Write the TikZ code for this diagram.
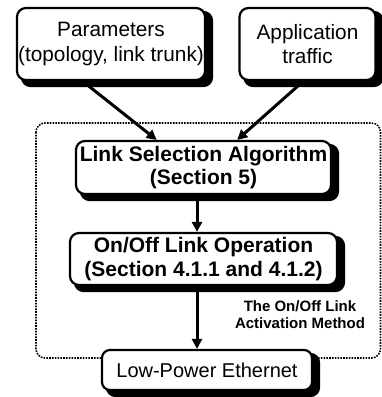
\documentclass[tikz,border=0pt]{standalone}
\usepackage{fontspec}
\setmainfont{Liberation Sans}
\usetikzlibrary{arrows.meta,calc,backgrounds}
\begin{document}
\begin{tikzpicture}[x=1pt,y=-1pt,
  box/.style={draw=black, line width=2.2pt, fill=white, rounded corners=9pt,
    align=center, inner sep=0pt},
  shade/.style={fill=black, draw=black, line width=2.2pt, rounded corners=9pt},
  reg/.style={font=\fontsize{20.8}{24.5}\selectfont},
  bld/.style={font=\fontsize{21}{23.5}\selectfont\bfseries},
  arr/.style={line width=3pt, -{Triangle[length=10pt,width=10pt]}},
  region/.style={draw=black, line width=1.6pt, dash pattern=on 1.6pt off 1.2pt, rounded corners=9pt}
]
\useasboundingbox (0,0) rectangle (382,397);
\draw[region] (36,123) rectangle (380.5,358);
\node[box, reg, minimum width=188pt, minimum height=72pt] (par) at (111,44) {Parameters\\(topology, link trunk)};
\node[box, reg, minimum width=136pt, minimum height=72pt] (app) at (307.5,44) {Application\\traffic};
\node[box, bld, minimum width=255pt, minimum height=53pt] (ls) at (203.5,167.5) {Link Selection Algorithm\\(Section 5)};
\node[box, bld, minimum width=267pt, minimum height=52pt] (oo) at (203.5,259) {On/Off Link Operation\\(Section 4.1.1 and 4.1.2)};
\node[box, reg, font=\fontsize{20}{24}\selectfont, minimum width=210pt, minimum height=40pt, rounded corners=8pt] (lp) at (207,370) {Low-Power Ethernet};
\node[align=center, font=\fontsize{15}{17}\selectfont\bfseries] (lab) at (300,314.5) {The On/Off Link\\Activation Method};
\begin{scope}[on background layer]
  \foreach \n in {par,app,ls,oo,lp}
    \draw[shade] ($(\n.north west)+(6,5)$) rectangle ($(\n.south east)+(6,5)$);
\end{scope}
\coordinate (ax) at (197,0);
\draw[arr] ($(par.south west)!0.35!(par.south east)$) -- ($(ls.north west)!0.318!(ls.north east)$);
\draw[arr] ($(app.south west)!0.47!(app.south east)$) -- ($(ls.north west)!0.631!(ls.north east)$);
\draw[arr] (ls.south -| ax) -- (oo.north -| ax);
\draw[arr] (oo.south -| ax) -- (lp.north -| ax);
\end{tikzpicture}
\end{document}
